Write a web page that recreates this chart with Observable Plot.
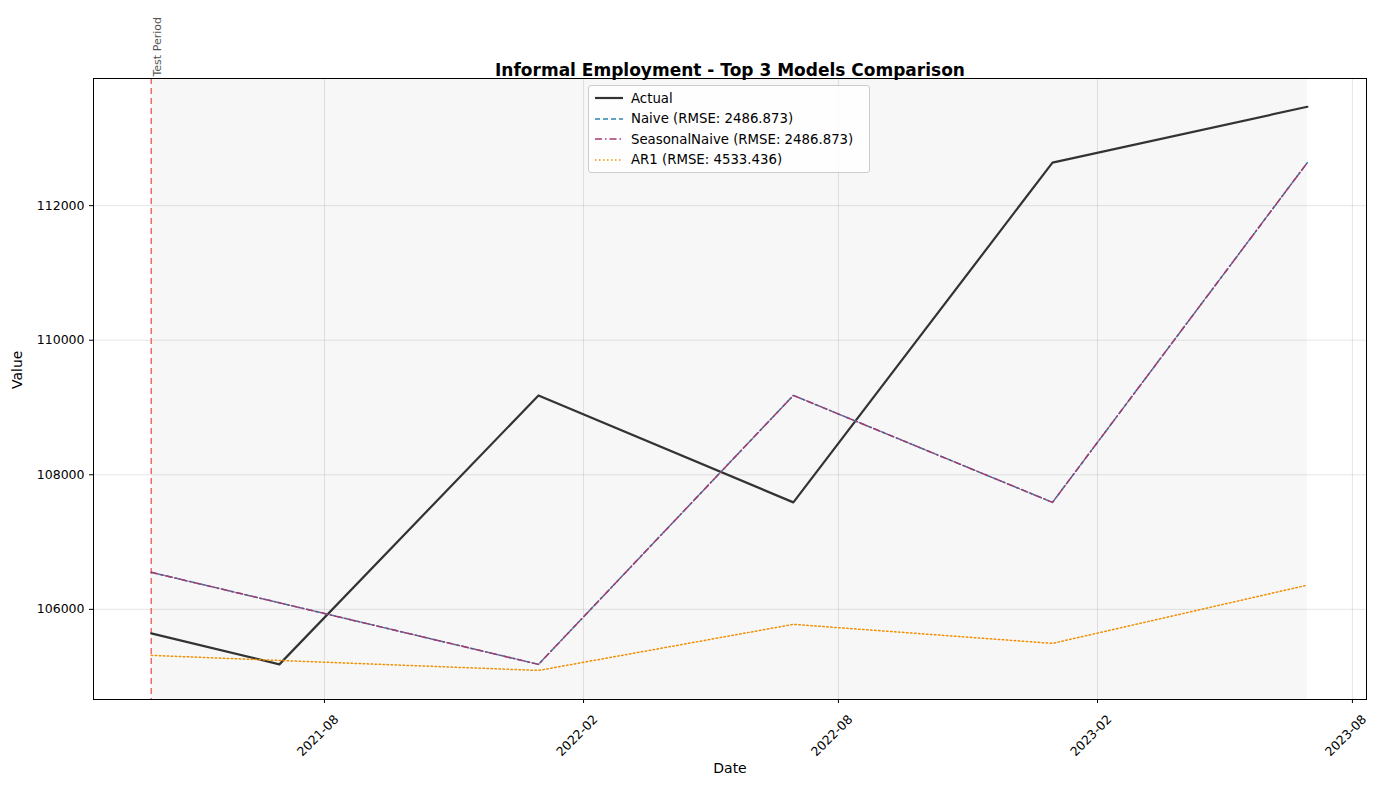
<!DOCTYPE html>
<html>
<head>
<meta charset="utf-8">
<script src="https://cdn.jsdelivr.net/npm/d3@7"></script>
<script src="https://cdn.jsdelivr.net/npm/@observablehq/plot@0.6"></script>
<style>
  body { margin: 0; background: #fff; font-family: "DejaVu Sans", sans-serif; }
  #wrap { position: relative; width: 1388px; height: 790px; }
  #legend { position: absolute; left: 588px; top: 85px; width: 282px; background: rgba(255,255,255,0.85);
    border: 1px solid #ccc; border-radius: 3px; font-size: 13.3px; padding: 2px 0 2px 4px; box-sizing: border-box; }
  #legend div { display: flex; align-items: center; height: 20.5px; }
  #legend svg { margin-right: 8px; }
</style>
</head>
<body>
<div id="wrap"><div id="legend"></div></div>
<script>
const dates = ["2021-03-31", "2021-06-30", "2021-12-31", "2022-06-30", "2022-12-31", "2023-06-30"];
const actual = [105643, 105182, 109180, 107590, 112640, 113470];
const naiveDates = ["2021-03-31", "2021-12-31", "2022-06-30", "2022-12-31", "2023-06-30"];
const naiveVals = [106550, 105182, 109180, 107590, 112640];
const ar1 = [105316, 105240, 105092, 105777, 105494, 106360];
const xTicks = ["2021-08-01", "2022-02-01", "2022-08-01", "2023-02-01", "2023-08-01"];
const yTicks = [106000, 108000, 110000, 112000];

const series = [
  {name: "Actual", color: "#333333", width: 2.2, dash: null},
  {name: "Naive (RMSE: 2486.873)", color: "#2E86AB", width: 1.5, dash: "5,3"},
  {name: "SeasonalNaive (RMSE: 2486.873)", color: "#A23B72", width: 1.5, dash: "7,3,1.5,3"},
  {name: "AR1 (RMSE: 4533.436)", color: "#F18F01", width: 1.5, dash: "1.5,2.5"}
];

const P = d3.utcParse("%Y-%m-%d");
const actualData = dates.map((d, i) => ({date: P(d), v: actual[i]}));
const ar1Data = dates.map((d, i) => ({date: P(d), v: ar1[i]}));
const naiveData = naiveDates.map((d, i) => ({date: P(d), v: naiveVals[i]}));
const start = P(dates[0]), end = P(dates[dates.length - 1]);
const yDom = [104660, 113890];
const xt = xTicks.map(P);

const chart = Plot.plot({
  width: 1388, height: 790,
  marginLeft: 93, marginRight: 22, marginTop: 78, marginBottom: 91,
  style: {fontFamily: "DejaVu Sans, sans-serif", fontSize: "12.5px", color: "#000"},
  x: {type: "utc", domain: [P("2021-02-18"), P("2023-08-11")]},
  y: {domain: yDom},
  marks: [
    Plot.rectY([0], {x1: start, x2: end, y1: yDom[0], y2: yDom[1], fill: "#f7f7f7"}),
    Plot.gridX(xt, {stroke: "#000", strokeOpacity: 0.1}),
    Plot.gridY(yTicks, {stroke: "#000", strokeOpacity: 0.1}),
    Plot.axisX({ticks: xt, tickSize: 4, tickFormat: () => "", label: null}),
    Plot.axisX({ticks: xt, tickSize: 0, tickRotate: -45, dx: 12, dy: 6, tickFormat: d3.utcFormat("%Y-%m"),
      label: null}),
    Plot.text(["Date"], {frameAnchor: "bottom", dy: 73, fontSize: 14}),
    Plot.axisY({ticks: yTicks, tickSize: 4, tickFormat: d => String(d), label: null}),
    Plot.text(["Value"], {frameAnchor: "left", dx: -76, rotate: -90, fontSize: 14}),
    Plot.ruleX([start], {stroke: "#f06a6a", strokeWidth: 1.5, strokeDasharray: "6,4"}),
    Plot.text(["Test Period"], {x: start, y: yDom[1], rotate: -90, textAnchor: "start", dx: 6, dy: -2,
      fill: "#555", fontSize: 11}),
    Plot.line(actualData, {x: "date", y: "v", stroke: series[0].color, strokeWidth: 2.2}),
    Plot.line(naiveData, {x: "date", y: "v", stroke: series[1].color, strokeWidth: 1.5, strokeDasharray: series[1].dash}),
    Plot.line(naiveData, {x: "date", y: "v", stroke: series[2].color, strokeWidth: 1.5, strokeDasharray: series[2].dash}),
    Plot.line(ar1Data, {x: "date", y: "v", stroke: series[3].color, strokeWidth: 1.5, strokeDasharray: series[3].dash}),
    Plot.frame({stroke: "#000"}),
    Plot.text(["Informal Employment - Top 3 Models Comparison"], {frameAnchor: "top", dy: -15,
      fontSize: 17, fontWeight: "bold"})
  ]
});
document.getElementById("wrap").prepend(chart);
chart.style.position = "absolute";

const leg = d3.select("#legend");
series.forEach(s => {
  const row = leg.append("div");
  const svg = row.append("svg").attr("width", 30).attr("height", 10);
  svg.append("line").attr("x1", 2).attr("x2", 30).attr("y1", 5).attr("y2", 5)
    .attr("stroke", s.color).attr("stroke-width", s.width).attr("stroke-dasharray", s.dash);
  row.append("span").text(s.name);
});
</script>
</body>
</html>
